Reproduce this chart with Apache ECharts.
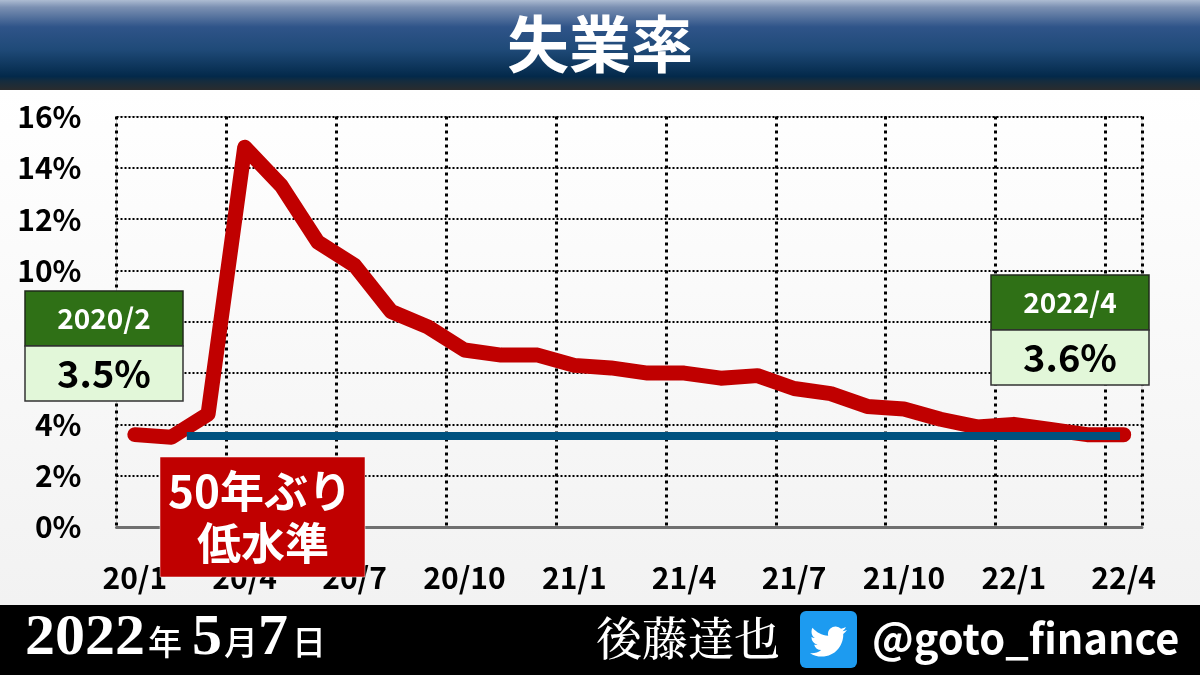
<!DOCTYPE html>
<html><head><meta charset="utf-8">
<style>html,body{margin:0;padding:0;background:#fff}#c{width:1200px;height:675px}</style>
<script src="https://cdn.jsdelivr.net/npm/echarts@6/dist/echarts.min.js"></script>
</head><body><div id="c"></div>
<script>
const months = ['20/1','20/2','20/3','20/4','20/5','20/6','20/7','20/8','20/9','20/10','20/11','20/12',
  '21/1','21/2','21/3','21/4','21/5','21/6','21/7','21/8','21/9','21/10','21/11','21/12',
  '22/1','22/2','22/3','22/4'];
const unemployment = [3.6,3.5,4.4,14.8,13.3,11.1,10.2,8.4,7.8,6.9,6.7,6.7,
  6.3,6.2,6.0,6.0,5.8,5.9,5.4,5.2,4.7,4.6,4.2,3.9,4.0,3.8,3.6,3.6];
const referenceLine = [[1.42,3.55],[26.9,3.55]];
const titleText = '失業率';
const calloutLeft = ['2020/2','3.5%'];
const calloutRight = ['2022/4','3.6%'];
const noteLines = ['50年ぶり','低水準'];
const handle = '@goto_finance';
const author = '後藤達也';

const JP = '"Noto Sans CJK JP","Noto Sans",sans-serif';
const SERIF = '"Liberation Serif","DejaVu Serif",serif';
const birdPath = 'M23.953 4.57a10 10 0 0 1-2.825.775 4.958 4.958 0 0 0 2.163-2.723c-.951.555-2.005.959-3.127 1.184a4.92 4.92 0 0 0-8.384 4.482C7.69 8.095 4.067 6.13 1.64 3.162a4.822 4.822 0 0 0-.666 2.475c0 1.71.87 3.213 2.188 4.096a4.904 4.904 0 0 1-2.228-.616v.06a4.923 4.923 0 0 0 3.946 4.827 4.996 4.996 0 0 1-2.212.085 4.936 4.936 0 0 0 4.604 3.417 9.867 9.867 0 0 1-6.102 2.105c-.39 0-.779-.023-1.17-.067a13.995 13.995 0 0 0 7.557 2.209c9.053 0 13.998-7.496 13.998-13.985 0-.21 0-.42-.015-.63A9.935 9.935 0 0 0 24 4.59z';
echarts.graphic.registerShape('birdIcon', echarts.graphic.extendPath(birdPath, {}));

function txt(x,y,text,size,fill,weight,family,align,sx){
  return {type:'text',z:110,silent:true,x,y,scaleX:sx||1,style:{text,fill,font:`${weight} ${size}px ${family}`,align:align||'center',verticalAlign:'middle'}};
}
function rect(x,y,w,h,fill,stroke,lw,z,r){
  return {type:'rect',z:z==null?100:z,silent:true,shape:{x,y,width:w,height:h,r:r||0},style:{fill,stroke:stroke||null,lineWidth:lw||0}};
}
function callout(x,y,lab){
  return [
    rect(x,y,158,55,'#2f7016','#1f2a1a',1.5),
    rect(x,y+55,158,55,'#e2f7d9','#333333',1.5),
    txt(x+79,y+27,lab[0],28,'#ffffff',700,JP),
    txt(x+79,y+83,lab[1],38,'#000000',700,JP)
  ];
}
const grad=(stops)=>({type:'linear',x:0,y:0,x2:0,y2:1,colorStops:stops});

const chart = echarts.init(document.getElementById('c'),null,{renderer:'canvas'});
chart.setOption({
  animation:false,
  grid:{left:116.5,right:58,top:116.5,bottom:148,show:true,backgroundColor:'transparent',borderColor:'#cfcfcf',borderWidth:1,containLabel:false},
  xAxis:[{
    type:'category',data:months,boundaryGap:true,
    axisLine:{show:true,lineStyle:{color:'#707070',width:3}},
    axisTick:{show:false},
    axisLabel:{interval:2,margin:36,color:'#000',fontSize:30,fontWeight:700,fontFamily:JP,hideOverlap:false},
    splitLine:{show:true,interval:2,lineStyle:{color:'#000',type:[3,4],width:3}}
  },{
    type:'value',min:-0.5,max:27.5,show:false,splitLine:{show:false}
  }],
  yAxis:{
    type:'value',min:0,max:16,interval:2,
    axisLine:{show:false},axisTick:{show:false},
    axisLabel:{formatter:'{value}%',margin:35,color:'#000',fontSize:30,fontWeight:700,fontFamily:JP},
    splitLine:{show:true,lineStyle:{color:'#000',type:[2,2],width:2}}
  },
  series:[{
    type:'line',data:unemployment,showSymbol:false,symbol:'none',z:5,
    lineStyle:{color:'#c00000',width:15,cap:'round',join:'round'}
  },{
    type:'line',xAxisIndex:1,data:referenceLine,showSymbol:false,symbol:'none',z:6,
    lineStyle:{color:'#00527f',width:8,cap:'butt'}
  }],
  graphic:{elements:[
    rect(0,90,1200,515,grad([{offset:0,color:'#ffffff'},{offset:1,color:'#f2f2f2'}]),null,0,-10),
    rect(0,0,1200,90,grad([{offset:0,color:'#adbcd2'},{offset:0.08,color:'#7b90b2'},{offset:0.3,color:'#2f5489'},{offset:0.55,color:'#1f4a78'},{offset:0.85,color:'#03294a'},{offset:0.9,color:'#152c3e'},{offset:1,color:'#2a2c2e'}])),
    txt(600,44,titleText,62,'#ffffff',700,JP),
    rect(0,605,1200,70,'#000000'),
    rect(160,457,205,120,'#c00000','#ffffff',0.5),
    txt(260,491,noteLines[0],44,'#ffffff',700,JP),
    txt(263,543,noteLines[1],44,'#ffffff',700,JP),
    ...callout(25,291,calloutLeft),
    ...callout(991,275,calloutRight),
    txt(25,640,'2022',56,'#fff',700,SERIF,'left',1.07),
    txt(148,642,'年',34,'#fff',500,JP,'left'),
    txt(192,640,'5',56,'#fff',700,SERIF,'left',1.07),
    txt(224,642,'月',34,'#fff',500,JP,'left'),
    txt(258,640,'7',56,'#fff',700,SERIF,'left',1.07),
    txt(292,642,'日',34,'#fff',500,JP,'left'),
    txt(780,638,author,46,'#ffffff',500,'"Noto Serif CJK JP",'+JP,'right'),
    rect(800,611,57,57,'#1d9bf0',null,0,100,6),
    {type:'birdIcon',z:110,silent:true,x:810,y:623,scaleX:37/24,scaleY:37/24,style:{fill:'#ffffff'}},
    txt(872,638,handle,41.5,'#ffffff',700,JP,'left')
  ]}
});
</script></body></html>
